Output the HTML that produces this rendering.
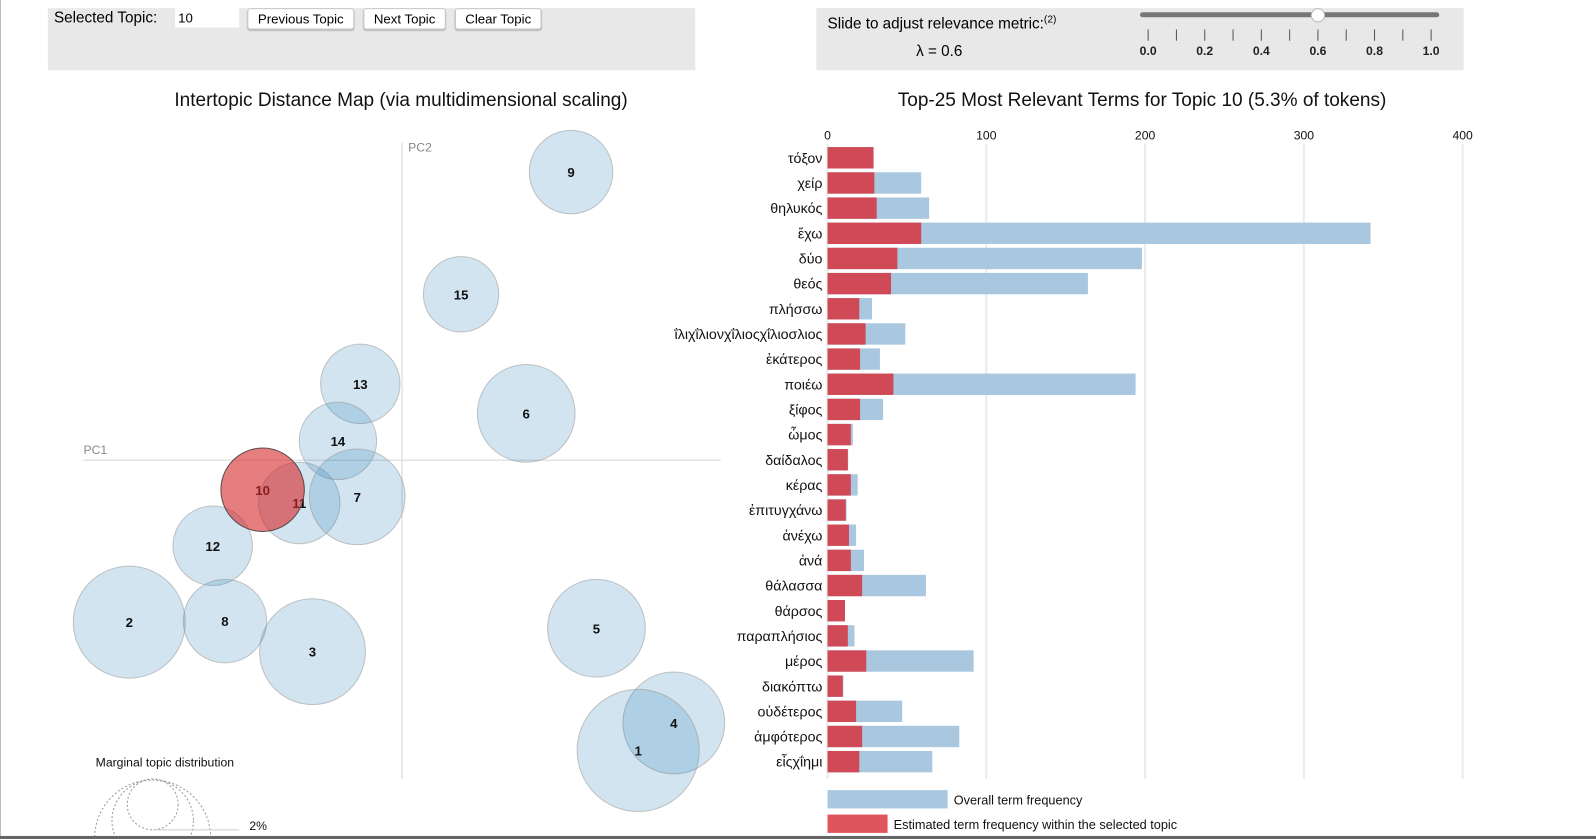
<!DOCTYPE html>
<html><head><meta charset="utf-8">
<style>
html,body{margin:0;padding:0;background:#fff;overflow:hidden}
body{width:1596px;height:839px;position:relative;font-family:"Liberation Sans",Arial,sans-serif;overflow:hidden}
#wrap{position:absolute;left:0;top:0;width:1568px;height:824px;overflow:hidden;transform-origin:0 0;transform:scale(1.01786,1.0182)}
.panel{position:absolute;background:#e8e8e8}
.btn{position:absolute;top:8px;height:19px;background:#fff;border:1px solid #c8c8c8;border-radius:3px;font-size:13px;line-height:19px;text-align:center;box-shadow:0 1px 1px #bbb}
svg text{font-family:"Liberation Sans",Arial,sans-serif}
</style></head><body>
<div id="wrap">
  <div style="position:absolute;left:0;top:0;width:1px;height:824px;background:#bbb"></div>
  <div class="panel" style="left:47px;top:8px;width:636px;height:61px">
    <div style="position:absolute;left:6px;top:1px;font-size:15px">Selected Topic:</div>
    <div style="position:absolute;left:125px;top:0;width:63px;height:19px;background:#fff;font-size:13px;line-height:19px;padding-left:3px;box-sizing:border-box">10</div>
  </div>
  <div class="btn" style="left:243px;width:103px">Previous Topic</div>
  <div class="btn" style="left:357px;width:79px">Next Topic</div>
  <div class="btn" style="left:447px;width:83px">Clear Topic</div>
  <div class="panel" style="left:802px;top:8px;width:636px;height:61px">
    <div style="position:absolute;left:11px;top:6px;font-size:15px">Slide to adjust relevance metric:<sup style="font-size:10px">(2)</sup></div>
    <div style="position:absolute;left:98px;top:34px;font-size:15px">λ = 0.6</div>
  </div>
  <svg id="svg" width="1568" height="824" style="position:absolute;left:0;top:0;overflow:hidden"></svg>
  <div style="position:absolute;left:0;top:821px;width:1568px;height:3px;background:#666"></div>
</div>
<script>
const topicIds=[9,15,13,6,14,11,7,12,2,8,3,5,4,1];
const topicX=[561,453,354,517,332,294,351,209,127,221,307,586,662,627];
const topicY=[169,289,377,406,433,494,488,536,611,610,640,617,710,737];
const topicR=[41,37,39,48,38,40,47,39,55,41,52,48,50,60];
const selTopic={id:10,x:258,y:481,r:41};
const terms=["τόξον","χείρ","θηλυκός","ἔχω","δύο","θεός","πλήσσω","ΐλιχΐλιονχΐλιοςχΐλιοσλιος","ἑκάτερος","ποιέω","ξίφος","ὦμος","δαίδαλος","κέρας","ἐπιτυγχάνω","ἀνέχω","ἀνά","θάλασσα","θάρσος","παραπλήσιος","μέρος","διακόπτω","οὐδέτερος","ἀμφότερος","εἶςχΐημι"];
const overall=[29,59,64,342,198,164,28,49,33,194,35,16,13,19,12,18,23,62,11,17,92,10,47,83,66];
const estimated=[29,29.5,31,59,44,40,20,24,20.5,41.5,20.5,14.7,12.8,14.7,11.5,13.5,14.7,21.8,11,12.8,24.4,9.6,18,21.8,20];
const xTicks=[0,100,200,300,400];
const sliderTicks=[0,0.1,0.2,0.3,0.4,0.5,0.6,0.7,0.8,0.9,1.0];
const lambda=0.6;

const NS="http://www.w3.org/2000/svg";
const svg=document.getElementById('svg');
function mk(tag,attrs,parent){const e=document.createElementNS(NS,tag);for(const k in attrs)e.setAttribute(k,attrs[k]);(parent||svg).appendChild(e);return e;}

const sx=v=>1128+v*278;
let e=mk('rect',{x:1120,y:12,width:294,height:5,rx:2.5,fill:'#777'});


sliderTicks.forEach((t,i)=>{
  let l=mk('line',{x1:sx(t),x2:sx(t),y1:29,y2:40,stroke:'#555','stroke-width':1});
  
  
  if(i%2===0){let tx=mk('text',{x:sx(t),y:54,'text-anchor':'middle','font-size':12,'font-weight':'bold',fill:'#222'});tx.textContent=t.toFixed(1);
    
    }
});
e=mk('circle',{cx:sx(lambda),cy:15,r:6.5,fill:'#fff',stroke:'#bbb'});



e=mk('text',{x:394,y:104,'text-anchor':'middle','font-size':18.7,fill:'#111'});e.textContent='Intertopic Distance Map (via multidimensional scaling)';


e=mk('text',{x:1122,y:104,'text-anchor':'middle','font-size':18.7,fill:'#111'});e.textContent='Top-25 Most Relevant Terms for Topic 10 (5.3% of tokens)';



e=mk('line',{x1:82,x2:708,y1:452,y2:452,stroke:'#e3e3e3','stroke-width':1.5});


e=mk('line',{x1:395,x2:395,y1:140,y2:765,stroke:'#e3e3e3','stroke-width':1.5});


e=mk('text',{x:82,y:446,'font-size':12,fill:'#888'});e.textContent='PC1';


e=mk('text',{x:401,y:149,'font-size':12,fill:'#888'});e.textContent='PC2';



topicIds.forEach((id,i)=>{
  let c=mk('circle',{cx:topicX[i],cy:topicY[i],r:topicR[i],fill:'#1f77b4','fill-opacity':0.2,stroke:'#999','stroke-opacity':0.55});
  
  
});
topicIds.forEach((id,i)=>{
  let t=mk('text',{x:topicX[i],y:topicY[i]+5,'text-anchor':'middle','font-size':13,'font-weight':'bold',fill:'#111'});t.textContent=id;
  
  
});
e=mk('text',{x:selTopic.x,y:selTopic.y+5,'text-anchor':'middle','font-size':13,'font-weight':'bold',fill:'#111'});e.textContent=selTopic.id;


e=mk('circle',{cx:selTopic.x,cy:selTopic.y,r:selTopic.r,fill:'#d62728','fill-opacity':0.6,stroke:'#333','stroke-opacity':0.8});



e=mk('text',{x:94,y:753,'font-size':12,fill:'#111'});e.textContent='Marginal topic distribution';


[[25,790],[40,806],[57,823]].forEach(([r,cy])=>{
  let c=mk('circle',{cx:150,cy:cy,r:r,fill:'none',stroke:'#999','stroke-dasharray':'2 2'});
  
  
});
e=mk('line',{x1:150,x2:235,y1:815,y2:815,stroke:'#ccc'});


e=mk('text',{x:245,y:815,'font-size':12,fill:'#111'});e.textContent='2%';



const x0=813, pxPer=1.56;
const xs=v=>x0+v*pxPer;
const rowY=i=>155+i*24.71;
xTicks.forEach(t=>{
  let g=mk('line',{x1:xs(t),x2:xs(t),y1:141,y2:765,stroke:'#ebebeb','stroke-width':2});
  
  
  let l=mk('text',{x:xs(t),y:137,'text-anchor':'middle','font-size':12,fill:'#111'});l.textContent=t;
  
  
});
terms.forEach((term,i)=>{
  const y=rowY(i);
  let b=mk('rect',{x:x0,y:y-10.5,width:overall[i]*pxPer,height:21,fill:'#a9c8e0'});
  
  
  let r=mk('rect',{x:x0,y:y-10.5,width:estimated[i]*pxPer,height:21,fill:'#cf4a56'});
  
  
  let t=mk('text',{x:808,y:y+5,'text-anchor':'end','font-size':14,fill:'#111'});t.textContent=term;
  
  
});
e=mk('rect',{x:813,y:776,width:118,height:18,fill:'#a9c8e0'});


e=mk('text',{x:937,y:790,'font-size':12.5,fill:'#111'});e.textContent='Overall term frequency';


e=mk('rect',{x:813,y:800,width:59,height:18,fill:'#e0555b'});


e=mk('text',{x:878,y:814,'font-size':12.5,fill:'#111'});e.textContent='Estimated term frequency within the selected topic';


</script>
</body></html>
